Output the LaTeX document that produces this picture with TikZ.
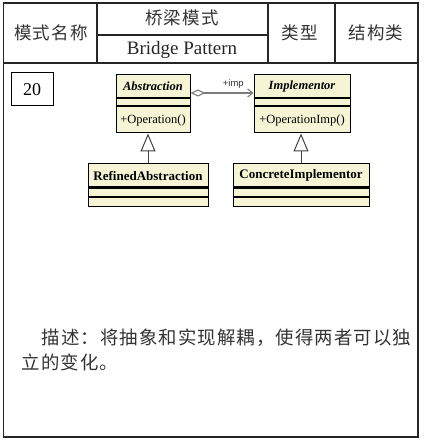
\documentclass[tikz,border=0pt]{standalone}
\usepackage{fontspec}
\setmainfont{Liberation Serif}
\setsansfont{Liberation Sans}
\newfontfamily\cjk[LetterSpace=6]{Noto Sans CJK SC}
\usetikzlibrary{positioning,arrows.meta}
\definecolor{classfill}{RGB}{245,245,214}
\definecolor{linkgray}{RGB}{125,125,125}
\tikzset{
  cell/.style={font=\cjk\fontsize{17.5}{20}\selectfont, text=black!80},
  frame/.style={line width=1.1pt, draw=black!85},
  cname/.style={draw, fill=classfill, line width=1pt, inner sep=0pt, minimum height=23pt, font=\fontsize{13}{15}\selectfont\bfseries},
  ccomp/.style={draw, fill=classfill, line width=1pt, inner sep=0pt, font=\fontsize{12.5}{14}\selectfont},
  inherit/.style={-{Triangle[open,length=18pt,width=15pt]}, line width=1pt, draw=black!75},
}

\begin{document}
\begin{tikzpicture}[x=1pt,y=-1pt]
			\useasboundingbox (0,0) rectangle (428,446);
			% table frame
			\draw[frame] (3.5,3) rectangle (418,437);
			\draw[frame] (3.5,63) -- (418,63);
			\foreach \xc in {97,268,335}
				\draw[frame] (\xc,3) -- (\xc,63);
			\draw[frame] (97,35) -- (268,35);
			\node[cell] (modename) at (51,33) {模式名称};
			\node[cell] (cnname) at (182,18) {桥梁模式};
			\node[font=\fontsize{19}{21}\selectfont, text=black!85] (enname) at (182,50) {Bridge Pattern};
			\node[cell] (typelabel) at (300,33) {类型};
			\node[cell] (typevalue) at (376,33) {结构类};
			\node[draw, line width=1pt, minimum width=42pt, minimum height=33pt, font=\fontsize{18}{20}\selectfont] (num) at (32,89.5) {20};
			% classes
			\node[cname, minimum width=74pt, font=\fontsize{12.5}{15}\selectfont\bfseries\itshape] (abs) at (153,86.5) {Abstraction};
			\node[ccomp, minimum width=74pt, minimum height=7pt, below=0pt of abs] (absattr) {};
			\node[ccomp, minimum width=74pt, minimum height=26pt, below=0pt of absattr] (absops) {+Operation()};
			\node[cname, minimum width=96pt, font=\fontsize{12.5}{15}\selectfont\bfseries\itshape] (impl) at (302,86.5) {Implementor};
			\node[ccomp, minimum width=96pt, minimum height=7pt, below=0pt of impl] (implattr) {};
			\node[ccomp, minimum width=96pt, minimum height=26pt, below=0pt of implattr] (implops) {+OperationImp()};
			\node[cname, minimum width=120pt] (refined) at (148,175.5) {RefinedAbstraction};
			\node[ccomp, minimum width=120pt, minimum height=8pt, below=0pt of refined] (refattr) {};
			\node[ccomp, minimum width=120pt, minimum height=9pt, below=0pt of refattr] (refops) {};
			\node[cname, minimum width=136pt] (concrete) at (301,175.5) {ConcreteImplementor};
			\node[ccomp, minimum width=136pt, minimum height=8pt, below=0pt of concrete] (conattr) {};
			\node[ccomp, minimum width=136pt, minimum height=9pt, below=0pt of conattr] (conops) {};
			% links
			\draw[linkgray, line width=1.1pt, {Diamond[open,length=15pt,width=7pt]}-{Straight Barb[length=5pt,width=8pt]}]
				([yshift=-6.5pt]abs.east) -- node[pos=0.68, above=0.5pt, font=\sffamily\fontsize{9.5}{10}\selectfont, text=black!80] (implabel) {+imp} ([yshift=-6.5pt]impl.west);
			\draw[inherit] (refined.north) -- (refined.north |- absops.south);
			\draw[inherit] (concrete.north) -- (concrete.north |- implops.south);
			% description
			\node[cell, font=\cjk\fontsize{18.4}{20}\selectfont, anchor=west] (desc1) at (38,338) {描述：将抽象和实现解耦，使得两者可以独};
			\node[cell, font=\cjk\fontsize{18.4}{20}\selectfont, anchor=west] (desc2) at (18,362) {立的变化。};
		\end{tikzpicture}
\end{document}
